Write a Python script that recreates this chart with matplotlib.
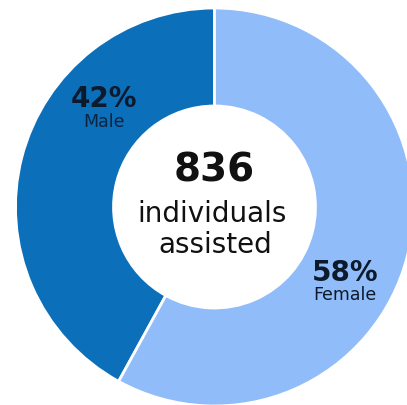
import matplotlib.pyplot as plt

labels = ["Male", "Female"]
shares = [42, 58]
colors = ["#0B6FBA", "#90BDF9"]
total = 836

plt.rcParams['font.family'] = ['DejaVu Sans']

fig = plt.figure(figsize=(4.07, 4.05), dpi=100)
ax = fig.add_axes([0, 0, 1, 1])

# donut, a little cropped at the bottom/right like the source
ax.pie(shares, colors=colors, startangle=90, counterclock=True,
       center=(214.5, 198), radius=199,
       wedgeprops=dict(width=98, edgecolor="white", linewidth=2))
ax.set_xlim(0, 407)
ax.set_ylim(0, 405)
ax.set_aspect("equal")
ax.axis("off")

H = 405  # flip pixel rows to data y
ax.text(214, H - 182, str(total), ha="center", va="baseline",
        fontsize=28, fontweight="bold", color="#111111")
ax.text(212, H - 222, "individuals", ha="center", va="baseline",
        fontsize=20, color="#111111")
ax.text(215, H - 253, "assisted", ha="center", va="baseline",
        fontsize=20, color="#111111")

# slice labels
ax.text(104, H - 107, f"{shares[0]}%", ha="center", va="baseline",
        fontsize=20, fontweight="bold", color="#0d1a2b")
ax.text(104, H - 127, labels[0], ha="center", va="baseline",
        fontsize=12.5, color="#0d2440")
ax.text(345, H - 281, f"{shares[1]}%", ha="center", va="baseline",
        fontsize=20, fontweight="bold", color="#0d1a2b")
ax.text(345, H - 300, labels[1], ha="center", va="baseline",
        fontsize=12.5, color="#0d1a2b")

fig.savefig("out.png", dpi=100)
